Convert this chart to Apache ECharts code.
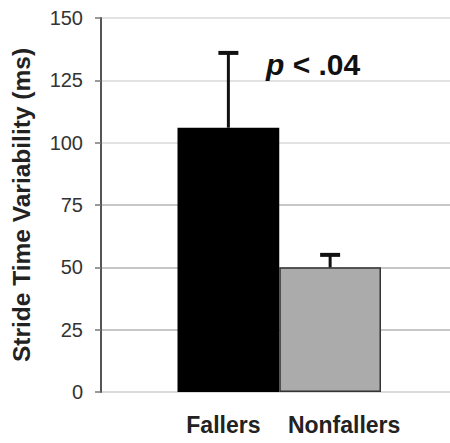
<!DOCTYPE html>
<html>
<head>
<meta charset="utf-8">
<script src="https://cdn.jsdelivr.net/npm/echarts@6/dist/echarts.min.js"></script>
<style>html,body{margin:0;padding:0;background:#fff;}#c{width:450px;height:443px;}</style>
</head>
<body>
<div id="c"></div>
<script>
var categories = ['Fallers', 'Nonfallers'];
var means = [106, 50];
var errors = [30, 5];
var yTicks = [0, 25, 50, 75, 100, 125, 150];
var pText = 'p < .04';

var chart = echarts.init(document.getElementById('c'), null, {renderer: 'svg'});
var font = 'Liberation Sans, Arial, Helvetica, sans-serif';
var barColors = ['#000000', '#ababab'];

var option = {
  animation: false,
  backgroundColor: '#ffffff',
  title: {
    text: '{i|p} < .04',
    left: 261, top: 44,
    textStyle: {
      fontFamily: font, fontSize: 30, fontWeight: 'bold', color: '#111',
      rich: { i: { fontFamily: font, fontSize: 30, fontWeight: 'bold', fontStyle: 'italic', color: '#111' } }
    }
  },
  grid: [
    {left: 101, right: 0, top: 18, bottom: 51},
    {left: 177.5, right: 69, top: 18, bottom: 51}
  ],
  xAxis: [
    {gridIndex: 0, type: 'value', min: 0, max: 1, show: false},
    {gridIndex: 1, type: 'category', data: categories,
      axisLine: {show: false}, axisTick: {show: false},
      axisLabel: {
        margin: 21,
        formatter: function (v) { return v === 'Fallers' ? '{f|' + v + '}' : '{n|' + v + '}'; },
        rich: {
          f: {fontFamily: font, fontSize: 23, fontWeight: 'bold', color: '#222', padding: [0, 10, 0, 0]},
          n: {fontFamily: font, fontSize: 23, fontWeight: 'bold', color: '#222', padding: [0, 0, 0, 28]}
        }
      }
    }
  ],
  yAxis: [
    {gridIndex: 0, type: 'value', min: yTicks[0], max: yTicks[yTicks.length - 1], interval: 25,
      name: 'Stride Time Variability (ms)', nameLocation: 'middle', nameGap: 67,
      nameTextStyle: {fontFamily: font, fontSize: 24.5, fontWeight: 'bold', color: '#222'},
      axisLine: {show: true, lineStyle: {color: '#555', width: 2}},
      axisTick: {show: true, length: 6, lineStyle: {color: '#777', width: 1.5}},
      axisLabel: {margin: 18, fontFamily: font, fontSize: 20, color: '#333'},
      splitLine: {show: true, lineStyle: {color: ['#cfcfcf', '#b5b5b5', '#b5b5b5', '#b5b5b5', '#d8d8d8', '#d8d8d8', '#d8d8d8'], width: 1.5}}
    },
    {gridIndex: 1, type: 'value', min: yTicks[0], max: yTicks[yTicks.length - 1], interval: 25, show: false}
  ],
  series: [
    {
      type: 'bar', xAxisIndex: 1, yAxisIndex: 1,
      barCategoryGap: '0%',
      data: means.map(function (v, i) {
        return {value: v, itemStyle: {color: barColors[i], borderColor: i === 1 ? '#333' : '#000', borderWidth: i === 1 ? 1.5 : 0}};
      })
    },
    {
      type: 'custom', xAxisIndex: 1, yAxisIndex: 1,
      data: means.map(function (v, i) { return [i, v, errors[i]]; }),
      renderItem: function (params, api) {
        var x = api.value(0), m = api.value(1), e = api.value(2);
        var p0 = api.coord([x, m]);
        var p1 = api.coord([x, m + e]);
        return {
          type: 'group',
          children: [
            {type: 'line', shape: {x1: p0[0], y1: p0[1], x2: p1[0], y2: p1[1]}, style: {stroke: '#111', lineWidth: 3}},
            {type: 'line', shape: {x1: p1[0] - 10, y1: p1[1], x2: p1[0] + 10, y2: p1[1]}, style: {stroke: '#111', lineWidth: 4}}
          ]
        };
      },
      z: 5
    }
  ]
};
chart.setOption(option);
</script>
</body>
</html>
